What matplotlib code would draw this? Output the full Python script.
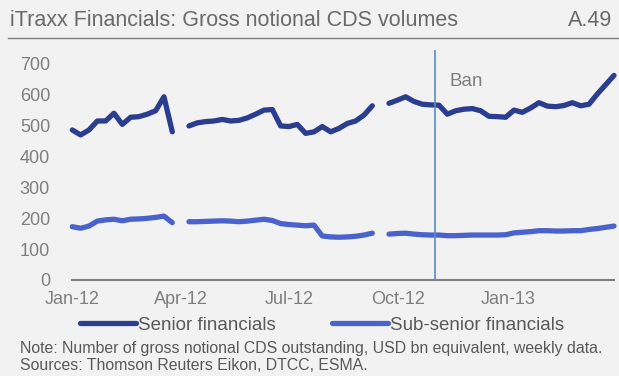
import matplotlib
matplotlib.use("Agg")
import matplotlib.pyplot as plt
import numpy as np
import pandas as pd
from matplotlib.lines import Line2D

plt.rcParams['font.family'] = ['Liberation Sans', 'DejaVu Sans']

# weekly data, USD bn
fechas = pd.date_range("2012-01-06", periods=66, freq="7D")
senior = [484, 468, 484, 513, 513, 538, 502, 525, 527, 535, 546, 591, 478, None,
          497, 507, 511, 513, 518, 513, 515, 523, 535, 548, 550, 497, 495, 502,
          473, 478, 495, 478, 489, 505, 513, 532, 562, None,
          570, 580, 591, 576, 567, 565, 564, 535, 546, 551, 553, 546, 528, 527,
          525, 548, 541, 555, 572, 561, 559, 563, 572, 562, 567, 600, 630, 660]
sub_senior = [172, 167, 174, 190, 194, 196, 191, 196, 197, 199, 202, 206, 185, None,
              188, 188, 189, 190, 191, 190, 188, 190, 193, 196, 192, 182, 179, 177,
              175, 177, 142, 139, 138, 139, 141, 145, 151, None,
              148, 150, 151, 148, 146, 145, 145, 143, 143, 144, 145, 145, 145, 145,
              146, 152, 154, 156, 159, 159, 158, 158, 159, 159, 163, 166, 170, 174]
etiquetas_x = ["Jan-12", "Apr-12", "Jul-12", "Oct-12", "Jan-13"]
fecha_ban = pd.Timestamp("2012-11-06")

senior = np.array([np.nan if v is None else v for v in senior], dtype=float)
sub_senior = np.array([np.nan if v is None else v for v in sub_senior], dtype=float)

fondo = "#f2f2f2"
gris = "#7f7f7f"
col_senior = "#2b3d8f"
col_sub = "#4a62cc"

fig = plt.figure(figsize=(6.19, 3.76), dpi=100, facecolor=fondo)

# titulo y linea separadora
fig.text(10 / 619, 1 - 20 / 376, "iTraxx Financials: Gross notional CDS volumes",
         fontsize=15.5, color="#6a6a6a", va="center", ha="left")
fig.text(612 / 619, 1 - 20 / 376, "A.49", fontsize=15.5, color="#6a6a6a",
         va="center", ha="right")
fig.add_artist(Line2D([8 / 619, 1], [1 - 38 / 376, 1 - 38 / 376],
                      color=gris, lw=1.0, transform=fig.transFigure))

ax = fig.add_axes([72.3 / 619, 96 / 376, 541.7 / 619, 230 / 376])
ax.set_facecolor(fondo)

ax.plot(fechas, senior, color=col_senior, lw=3.8, solid_capstyle="round",
        solid_joinstyle="round", clip_on=False, label="Senior financials")
ax.plot(fechas, sub_senior, color=col_sub, lw=3.8, solid_capstyle="round",
        solid_joinstyle="round", clip_on=False, label="Sub-senior financials")

ax.axvline(fecha_ban, color="#5b8cc8", lw=1.2)
ax.text(fecha_ban + pd.Timedelta(days=12), 640, "Ban", fontsize=13.5, color=gris,
        va="center", ha="left")

ax.set_xlim(fechas[0], fechas[-1])
ax.set_ylim(0, 742)
ax.set_yticks(range(0, 701, 100))
ticks_x = [fechas[0] + pd.DateOffset(months=3 * k) for k in range(len(etiquetas_x))]
ax.set_xticks(ticks_x)
ax.set_xticklabels(etiquetas_x)

for lado in ["top", "right", "left"]:
    ax.spines[lado].set_visible(False)
ax.spines["bottom"].set_color(gris)
ax.spines["bottom"].set_linewidth(1.5)
ax.tick_params(axis="both", length=0, labelsize=13, labelcolor=gris)
ax.tick_params(axis="y", pad=16)
ax.tick_params(axis="x", pad=8)

fig.legend(loc="center", bbox_to_anchor=(322 / 619, 1 - 325 / 376), ncol=2,
           frameon=False, fontsize=13.5, handlelength=3.0, handletextpad=0.1,
           columnspacing=3.0, labelcolor="#595959", borderaxespad=0)

fig.text(20 / 619, 1 - 348 / 376,
         "Note: Number of gross notional CDS outstanding, USD bn equivalent, weekly data.",
         fontsize=11.4, color="#595959", va="center", ha="left")
fig.text(20 / 619, 1 - 366 / 376, "Sources: Thomson Reuters Eikon, DTCC, ESMA.",
         fontsize=11.4, color="#595959", va="center", ha="left")

fig.savefig("out.png", dpi=100, facecolor=fondo)
